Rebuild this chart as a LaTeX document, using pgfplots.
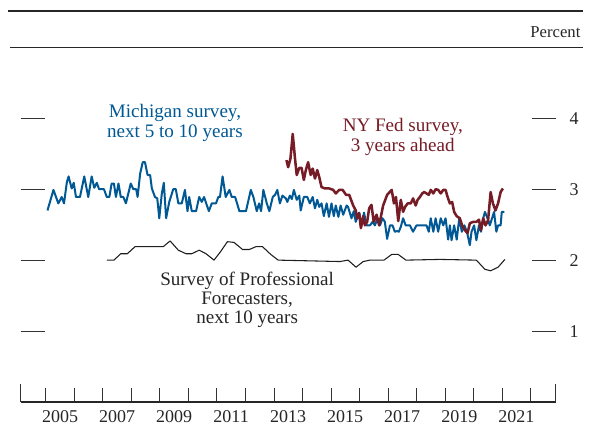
\documentclass[border=0pt]{standalone}
\usepackage{fontspec}
\setmainfont{Liberation Serif}
\usepackage{pgfplots}
\pgfplotsset{compat=1.18}
\definecolor{michblue}{RGB}{0,88,148}
\definecolor{nyred}{RGB}{118,28,38}
\definecolor{spfgray}{RGB}{30,30,30}

\pgfplotstableread{
x y
2005.06 2.70
2005.27 2.99
2005.44 2.80
2005.56 2.89
2005.64 2.80
2005.74 3.10
2005.80 3.18
2005.91 3.01
2005.98 3.09
2006.06 2.89
2006.20 2.89
2006.35 3.18
2006.49 2.89
2006.61 3.18
2006.70 3.02
2006.79 3.09
2006.87 3.00
2007.04 3.00
2007.14 2.89
2007.23 2.89
2007.31 3.08
2007.39 3.08
2007.46 2.89
2007.55 3.08
2007.63 2.89
2007.72 2.89
2007.81 2.80
2007.98 3.08
2008.07 3.00
2008.17 3.00
2008.22 2.89
2008.31 3.22
2008.40 3.38
2008.48 3.38
2008.57 3.20
2008.66 3.20
2008.72 3.01
2008.83 2.89
2008.91 2.87
2008.98 2.59
2009.07 2.94
2009.14 3.09
2009.22 2.59
2009.33 2.82
2009.47 3.00
2009.56 3.00
2009.65 2.80
2009.77 2.80
2009.88 2.99
2009.97 2.69
2010.03 2.89
2010.12 2.69
2010.27 2.69
2010.38 2.89
2010.47 2.82
2010.55 2.89
2010.72 2.69
2010.82 2.80
2010.97 2.80
2011.05 2.89
2011.11 2.89
2011.20 3.18
2011.31 2.89
2011.44 2.99
2011.52 2.89
2011.64 2.89
2011.79 2.69
2012.02 2.69
2012.19 2.99
2012.28 2.89
2012.40 2.69
2012.48 2.80
2012.55 2.69
2012.63 2.99
2012.75 2.80
2012.84 2.69
2012.96 2.89
2013.04 2.92
2013.12 2.99
2013.21 2.80
2013.30 2.91
2013.42 2.87
2013.47 2.82
2013.56 2.91
2013.63 2.86
2013.70 2.99
2013.80 2.85
2013.89 2.91
2013.94 2.70
2014.05 2.89
2014.17 2.89
2014.26 2.80
2014.36 2.89
2014.44 2.73
2014.52 2.85
2014.59 2.75
2014.67 2.80
2014.75 2.62
2014.85 2.80
2014.93 2.61
2015.02 2.80
2015.10 2.62
2015.17 2.77
2015.26 2.61
2015.34 2.77
2015.43 2.64
2015.55 2.77
2015.60 2.75
2015.72 2.59
2015.80 2.69
2015.87 2.54
2015.99 2.67
2016.07 2.49
2016.16 2.67
2016.25 2.49
2016.37 2.49
2016.46 2.54
2016.54 2.49
2016.64 2.59
2016.72 2.49
2016.81 2.59
2016.89 2.54
2016.97 2.30
2017.07 2.49
2017.16 2.49
2017.24 2.40
2017.32 2.41
2017.38 2.40
2017.45 2.47
2017.53 2.59
2017.62 2.49
2017.77 2.49
2017.88 2.40
2018.00 2.49
2018.35 2.49
2018.43 2.40
2018.50 2.59
2018.59 2.40
2018.67 2.59
2018.76 2.40
2018.85 2.59
2018.94 2.49
2019.02 2.59
2019.11 2.29
2019.17 2.49
2019.23 2.28
2019.32 2.49
2019.41 2.29
2019.50 2.59
2019.59 2.40
2019.68 2.49
2019.77 2.40
2019.87 2.21
2019.93 2.40
2020.02 2.49
2020.10 2.28
2020.19 2.49
2020.26 2.40
2020.34 2.59
2020.40 2.68
2020.49 2.59
2020.57 2.49
2020.65 2.59
2020.72 2.68
2020.80 2.40
2020.86 2.49
2020.95 2.49
2020.99 2.68
2021.08 2.68
}\michigan

\pgfplotstableread{
x y
2013.44 3.41
2013.50 3.31
2013.58 3.43
2013.66 3.78
2013.74 3.43
2013.80 3.20
2013.89 3.30
2013.97 3.30
2014.05 3.13
2014.12 3.27
2014.20 3.38
2014.29 3.20
2014.36 3.29
2014.44 3.15
2014.52 3.27
2014.59 3.17
2014.67 3.03
2014.79 3.01
2014.94 3.01
2015.08 2.99
2015.17 2.94
2015.29 2.99
2015.41 2.99
2015.53 2.92
2015.64 2.92
2015.78 2.77
2015.87 2.70
2015.92 2.59
2015.99 2.66
2016.05 2.45
2016.13 2.62
2016.19 2.49
2016.27 2.54
2016.34 2.73
2016.42 2.78
2016.50 2.54
2016.60 2.64
2016.69 2.49
2016.83 2.77
2016.97 2.92
2017.13 2.99
2017.21 2.80
2017.28 2.89
2017.36 2.55
2017.45 2.85
2017.53 2.68
2017.60 2.75
2017.69 2.80
2017.80 2.80
2017.88 2.87
2017.97 2.77
2018.04 2.85
2018.12 2.89
2018.20 2.94
2018.27 2.96
2018.35 2.94
2018.43 2.92
2018.50 2.99
2018.59 2.94
2018.67 3.00
2018.76 2.99
2018.85 2.94
2018.94 2.99
2019.02 2.99
2019.09 2.89
2019.17 2.80
2019.25 2.82
2019.32 2.68
2019.41 2.62
2019.52 2.59
2019.60 2.49
2019.70 2.42
2019.79 2.38
2019.87 2.52
2019.99 2.54
2020.10 2.54
2020.19 2.57
2020.26 2.42
2020.34 2.59
2020.42 2.49
2020.51 2.56
2020.60 2.96
2020.68 2.80
2020.77 2.70
2020.86 2.80
2020.95 2.96
2021.03 3.01
}\nyfed

\pgfplotstableread{
x y
2007.14 2.00
2007.39 2.00
2007.63 2.09
2007.86 2.09
2008.13 2.19
2009.12 2.19
2009.36 2.27
2009.65 2.14
2009.92 2.09
2010.12 2.09
2010.38 2.14
2010.62 2.09
2010.90 2.00
2011.13 2.12
2011.37 2.26
2011.60 2.25
2011.90 2.15
2012.14 2.15
2012.37 2.19
2012.60 2.19
2012.89 2.08
2013.15 2.00
2015.32 1.98
2015.60 2.00
2015.88 1.90
2016.13 1.98
2016.37 2.00
2016.86 2.00
2017.13 2.08
2017.36 2.08
2017.63 2.00
2018.82 2.01
2020.10 2.00
2020.40 1.87
2020.60 1.85
2020.86 1.90
2021.10 2.01
}\spf

\begin{document}
\begin{tikzpicture}
\useasboundingbox (0,0) rectangle (442.5pt,320.25pt);
% rules at the top
\draw[line width=2.2pt, black!85] (6pt,312pt) -- (437.5pt,312pt);
\draw[line width=0.6pt, black!85] (7.5pt,284.8pt) -- (437.5pt,284.8pt);
\node[anchor=east, font=\fontsize{12.5}{14}\selectfont, text=black!85, inner sep=0pt] at (435.5pt,296.5pt) {Percent};

\begin{axis}[
  at={(15.5pt,18.75pt)}, anchor=south west,
  scale only axis, width=401.25pt, height=266pt,
  xmin=2004.12, xmax=2022.88, ymin=0, ymax=5,
  axis line style={draw=none},
  tick style={draw=black!80, line width=0.6pt},
  tick align=inside,
  major tick length=18pt, minor tick length=10.5pt,
  xtick={2005.5,2007.5,...,2021.5},
  xticklabels={2005,2007,2009,2011,2013,2015,2017,2019,2021},
  minor xtick={2005,2006,...,2022},
  major x tick style={draw=none},
  xtick pos=left,
  ytick={1,2,3,4},
  ytick pos=both, yticklabel pos=right,
  ticklabel style={font=\fontsize{13.5}{15}\selectfont, text=black!85},
  xticklabel style={yshift=-3pt},
  yticklabel style={xshift=7pt},
  /pgf/number format/assume math mode=true,
  clip=false,
]
\draw[line width=0.9pt, black!85] (rel axis cs:0,0) -- (rel axis cs:1,0);
\draw[line width=0.6pt, black!80] (rel axis cs:0,0) -- ++(0pt,13.75pt);
\draw[line width=0.6pt, black!80] (rel axis cs:1,0) -- ++(0pt,13.75pt);

\addplot[spfgray, line width=0.8pt, line join=round] table[x=x, y=y] {\spf};
\addplot[michblue, line width=1.5pt, line join=round] table[x=x, y=y] {\michigan};
\addplot[nyred, line width=1.9pt, line join=round] table[x=x, y=y] {\nyfed};

\node[align=center, text=michblue, font=\fontsize{14.3}{15}\selectfont] at (axis cs:2009.53,3.94) {Michigan survey,\\next 5 to 10 years};
\node[align=center, text=nyred, font=\fontsize{14.3}{15}\selectfont] at (axis cs:2017.52,3.74) {NY Fed survey,\\3 years ahead};
\node[align=center, text=black!85, font=\fontsize{14.3}{14.5}\selectfont] at (axis cs:2012.06,1.44) {Survey of Professional\\Forecasters,\\next 10 years};
\end{axis}
\end{tikzpicture}
\end{document}
